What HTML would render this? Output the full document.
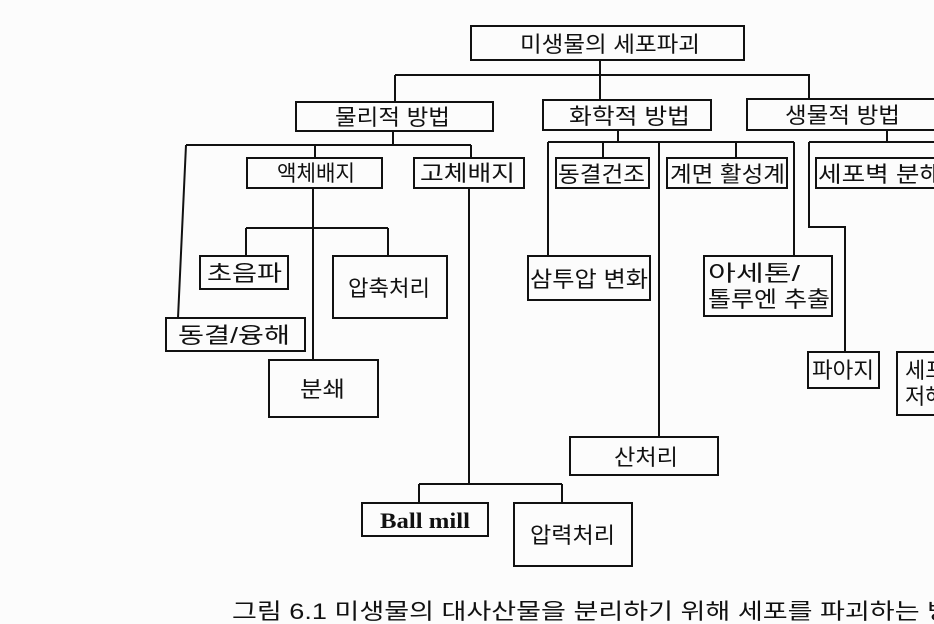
<!DOCTYPE html>
<html><head><meta charset="utf-8"><style>
html,body{margin:0;padding:0;background:#fcfcfc;overflow:hidden;}
svg{display:block}
text{font-family:"Liberation Sans","Noto Sans CJK KR",sans-serif;fill:#111;font-size:22px;}
</style></head><body>
<svg width="934" height="624" viewBox="0 0 934 624" xmlns="http://www.w3.org/2000/svg">
<g fill="none" stroke="#111" stroke-width="2">
<rect x="471" y="26" width="273" height="34"/>
<rect x="296" y="102" width="197" height="29"/>
<rect x="543" y="100" width="168" height="30"/>
<rect x="747" y="99" width="200" height="31"/>
<rect x="247" y="158" width="135" height="30"/>
<rect x="414" y="158" width="110" height="30"/>
<rect x="556" y="158" width="93" height="30"/>
<rect x="667" y="158" width="120" height="30"/>
<rect x="816" y="158" width="130" height="30"/>
<rect x="200" y="256" width="88" height="33"/>
<rect x="333" y="256" width="114" height="62"/>
<rect x="528" y="256" width="122" height="44"/>
<rect x="704" y="256" width="128" height="60"/>
<rect x="166" y="318" width="139" height="33"/>
<rect x="269" y="360" width="109" height="57"/>
<rect x="808" y="352" width="71" height="36"/>
<rect x="897" y="352" width="50" height="63"/>
<rect x="570" y="437" width="148" height="38"/>
<rect x="362" y="503" width="126" height="33"/>
<rect x="514" y="503" width="118" height="63"/>
<path d="M600 60V100 M395 75H809V99 M395 75V102"/>
<path d="M393 131V145 M186 145H471 M315 145V158 M471 145V158 M186 145L178 318"/>
<path d="M313 188V360 M246 228H388 M246 228V256 M388 228V256"/>
<path d="M469 188V484 M419 484H562 M419 484V503 M562 484V503"/>
<path d="M618 130V142 M548 142H794 M548 142V256 M603 142V158 M659 142V437 M736 142V158 M794 142V256"/>
<path d="M887 130V142 M809 142H934 M809 142V227H845V352"/>
</g>
<text x="520" y="52" textLength="180" lengthAdjust="spacingAndGlyphs">미생물의 세포파괴</text>
<text x="335" y="125" textLength="115" lengthAdjust="spacingAndGlyphs">물리적 방법</text>
<text x="569" y="124" textLength="121" lengthAdjust="spacingAndGlyphs">화학적 방법</text>
<text x="785" y="123" textLength="115" lengthAdjust="spacingAndGlyphs">생물적 방법</text>
<text x="277" y="181" textLength="78" lengthAdjust="spacingAndGlyphs">액체배지</text>
<text x="420" y="181" textLength="95" lengthAdjust="spacingAndGlyphs">고체배지</text>
<text x="558" y="182" textLength="87" lengthAdjust="spacingAndGlyphs">동결건조</text>
<text x="670" y="182" textLength="115" lengthAdjust="spacingAndGlyphs">계면 활성계</text>
<text x="818" y="182" textLength="125" lengthAdjust="spacingAndGlyphs">세포벽 분해</text>
<text x="207" y="281" textLength="75" lengthAdjust="spacingAndGlyphs">초음파</text>
<text x="348" y="296" textLength="82" lengthAdjust="spacingAndGlyphs">압축처리</text>
<text x="530" y="287" textLength="118" lengthAdjust="spacingAndGlyphs">삼투압 변화</text>
<text x="708" y="281" textLength="92" lengthAdjust="spacingAndGlyphs">아세톤/</text>
<text x="708" y="307" textLength="122" lengthAdjust="spacingAndGlyphs">톨루엔 추출</text>
<text x="178" y="343" textLength="112" lengthAdjust="spacingAndGlyphs">동결/융해</text>
<text x="300" y="397" textLength="45" lengthAdjust="spacingAndGlyphs">분쇄</text>
<text x="812" y="378" textLength="62" lengthAdjust="spacingAndGlyphs">파아지</text>
<text x="905" y="378">세포</text>
<text x="905" y="404">저해</text>
<text x="614" y="465" textLength="64" lengthAdjust="spacingAndGlyphs">산처리</text>
<text x="380" y="528" style="font-family:'Liberation Serif',serif;font-weight:bold" textLength="90" lengthAdjust="spacingAndGlyphs">Ball mill</text>
<text x="530" y="543" textLength="85" lengthAdjust="spacingAndGlyphs">압력처리</text>
<text x="232" y="619" font-size="26" textLength="720" lengthAdjust="spacingAndGlyphs">그림 6.1 미생물의 대사산물을 분리하기 위해 세포를 파괴하는 방</text>
</svg>
</body></html>
